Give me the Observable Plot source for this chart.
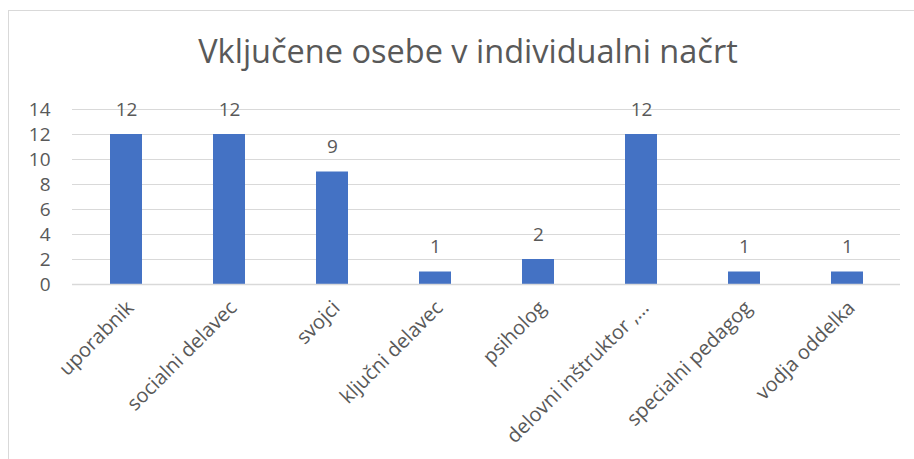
<!DOCTYPE html>
<html>
<head>
<meta charset="utf-8">
<script src="https://cdn.jsdelivr.net/npm/d3@7"></script>
<script src="https://cdn.jsdelivr.net/npm/@observablehq/plot@0.6"></script>
<style>
  html, body { margin: 0; padding: 0; background: #fff; }
  body { width: 914px; height: 459px; overflow: hidden; position: relative; font-family: "Open Sans", sans-serif; }
  #frame { position: absolute; left: 8px; top: 10px; width: 940px; height: 480px; border: 1px solid #d9d9d9; box-sizing: border-box; }
  #title { position: absolute; left: 0; top: 31px; width: 936px; text-align: center; font-size: 32.5px; line-height: 40px; color: #595959; font-family: "Open Sans", sans-serif; white-space: nowrap; }
  #chart { position: absolute; left: 0; top: 0; }
</style>
</head>
<body>
<div id="frame"></div>
<div id="title">Vključene osebe v individualni načrt</div>
<div id="chart"></div>
<script>
const categories = ["uporabnik", "socialni delavec", "svojci", "ključni delavec", "psiholog", "delovni inštruktor ,…", "specialni pedagog", "vodja oddelka"];
const values = [12, 12, 9, 1, 2, 12, 1, 1];
const yTicks = [0, 2, 4, 6, 8, 10, 12, 14];

const data = categories.map((c, i) => ({category: c, value: values[i]}));

const chart = Plot.plot({
  width: 914,
  height: 459,
  marginTop: 109,
  marginBottom: 175,
  marginLeft: 72,
  marginRight: 14,
  style: {fontFamily: "'Open Sans', sans-serif", fontSize: "19px", color: "#595959", background: "transparent"},
  x: {domain: categories, paddingInner: 0.69, paddingOuter: 0.345, axis: null, label: null},
  y: {domain: [0, 14], ticks: yTicks, label: null},
  marks: [
    Plot.gridY(yTicks, {stroke: "#d9d9d9", strokeOpacity: 1, strokeWidth: 1}),
    Plot.axisY(yTicks, {tickSize: 0, tickPadding: 22, fontSize: 19, fill: "#595959", label: null}),
    Plot.barY(data, {x: "category", y: "value", fill: "#4472C4"}),
    Plot.ruleY([0], {stroke: "#d9d9d9", strokeWidth: 1.5}),
    Plot.text(data, {x: "category", y: "value", text: d => String(d.value), dy: -25, fill: "#595959", fontSize: 19}),
    Plot.text(categories, {x: d => d, frameAnchor: "bottom", rotate: -45, textAnchor: "end", lineAnchor: "middle", dx: 4, dy: 20, fill: "#595959", fontSize: 20})
  ]
});
document.getElementById("chart").appendChild(chart);
</script>
</body>
</html>
